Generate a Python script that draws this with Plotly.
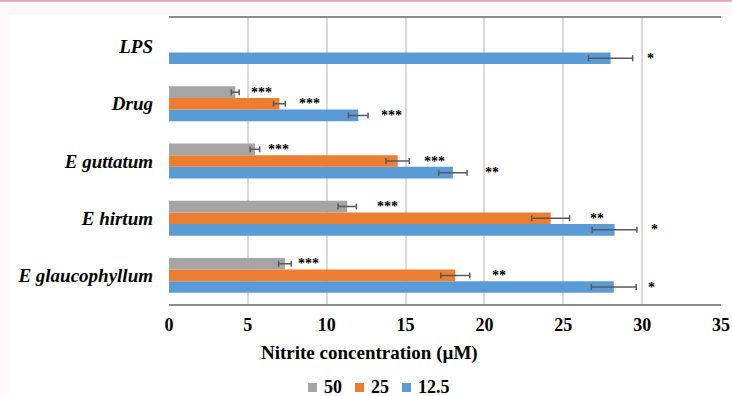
import plotly.graph_objects as go

categories = ["E glaucophyllum", "E hirtum", "E guttatum", "Drug", "LPS"]
values_12_5 = [28.2, 28.25, 18.0, 12.0, 28.0]
values_25 = [18.15, 24.2, 14.5, 7.0, None]
values_50 = [7.35, 11.3, 5.45, 4.2, None]
err_12_5 = [1.42, 1.42, 0.9, 0.62, 1.4]
err_25 = [0.92, 1.2, 0.74, 0.37, None]
err_50 = [0.4, 0.58, 0.3, 0.25, None]
stars_12_5 = ["*", "*", "**", "***", "*"]
stars_25 = ["**", "**", "***", "***", ""]
stars_50 = ["***", "***", "***", "***", ""]
x_ticks = [0, 5, 10, 15, 20, 25, 30, 35]
legend_order = ["50", "25", "12.5"]

colors = {"12.5": "#5B9BD5", "25": "#ED7D31", "50": "#A5A5A5"}
star_gap_px = {"12.5": [10, 12, 16, 11, 12], "25": [20, 18, 13, 12, 0], "50": [5, 19, 6, 10, 0]}

serif = "Liberation Serif"
W, H = 732, 396
L, R, T, B = 169, 11, 18, 92
pw, ph = W - L - R, H - T - B

def px_x(px):
    return (px - L) / pw

def px_y(py):
    return (H - B - py) / ph

series = [
    ("12.5", values_12_5, err_12_5, stars_12_5),
    ("25", values_25, err_25, stars_25),
    ("50", values_50, err_50, stars_50),
]

fig = go.Figure()
for name, vals, errs, _ in series:
    fig.add_trace(go.Bar(
        y=categories, x=vals, name=name, orientation="h",
        marker=dict(color=colors[name], line=dict(width=0)),
        error_x=dict(type="data", array=[e if e is not None else 0 for e in errs],
                     color="#595959", thickness=1.5, width=3),
        showlegend=False,
    ))

bargap = 0.39
bw = (1 - bargap) / 3
annotations = []
for k, (name, vals, errs, stars) in enumerate(series):
    for i, cat in enumerate(categories):
        if not stars[i] or vals[i] is None:
            continue
        annotations.append(dict(
            x=vals[i] + errs[i], y=i + (k - 1) * bw, xref="x", yref="y",
            text="<b>" + stars[i] + "</b>", showarrow=False, xanchor="left", yanchor="middle",
            xshift=star_gap_px[name][i], yshift=0,
            font=dict(family=serif, size=14, color="#000000"),
        ))

annotations.append(dict(
    x=px_x(369), y=px_y(353), xref="paper", yref="paper",
    text="<b>Nitrite concentration (µM)</b>", showarrow=False,
    xanchor="center", yanchor="middle",
    font=dict(family=serif, size=19, color="#000000"),
))

shapes = [
    dict(type="rect", xref="paper", yref="paper", x0=px_x(10), x1=px_x(W + 2),
         y0=px_y(15), y1=px_y(H + 2), fillcolor="#ffffff", line=dict(width=0), layer="below"),
    dict(type="line", xref="paper", yref="paper", x0=px_x(-2), x1=px_x(W + 2),
         y0=px_y(0.8), y1=px_y(0.8), line=dict(color="#E2A3B4", width=2)),
]

# legend drawn as colored squares with labels
leg_font = 18
leg_x = 308
leg_y = 388
for name in legend_order:
    shapes.append(dict(type="rect", xref="paper", yref="paper",
                       x0=px_x(leg_x), x1=px_x(leg_x + 9),
                       y0=px_y(leg_y + 4), y1=px_y(leg_y - 5),
                       fillcolor=colors[name], line=dict(width=0)))
    annotations.append(dict(x=px_x(leg_x + 14), y=px_y(leg_y - 1), xref="paper", yref="paper",
                            text="<b>" + name + "</b>", showarrow=False,
                            xanchor="left", yanchor="middle",
                            font=dict(family=serif, size=leg_font, color="#000000")))
    text_w = sum(0.25 if c == "." else 0.5 for c in name) * leg_font
    leg_x += 9 + 6 + text_w + 14

fig.update_layout(
    width=W, height=H,
    margin=dict(l=L, r=R, t=T, b=B, pad=0, autoexpand=False),
    paper_bgcolor="#FCF9FA", plot_bgcolor="#ffffff",
    barmode="group", bargap=bargap, bargroupgap=0,
    showlegend=False,
    annotations=annotations, shapes=shapes,
    xaxis=dict(range=[0, 35], tickvals=x_ticks, ticktext=["<b>%d</b>" % t for t in x_ticks],
               showgrid=True, gridcolor="#D9D9D9", gridwidth=1.5, zeroline=False,
               showline=True, linecolor="#8C8C8C", linewidth=1.5, mirror=True,
               ticks="", ticklabelstandoff=4, automargin=False,
               tickfont=dict(family=serif, size=18, color="#000000")),
    yaxis=dict(categoryorder="array", categoryarray=categories,
               tickvals=categories, ticktext=["<b><i>" + c + "</i></b>" for c in categories],
               showgrid=False, zeroline=False, showline=False,
               ticks="", ticklabelstandoff=15, automargin=False,
               tickfont=dict(family=serif, size=19, color="#000000")),
)

fig.write_html("out.html", config={"displayModeBar": False},
               post_script="document.body.style.margin='0';")
